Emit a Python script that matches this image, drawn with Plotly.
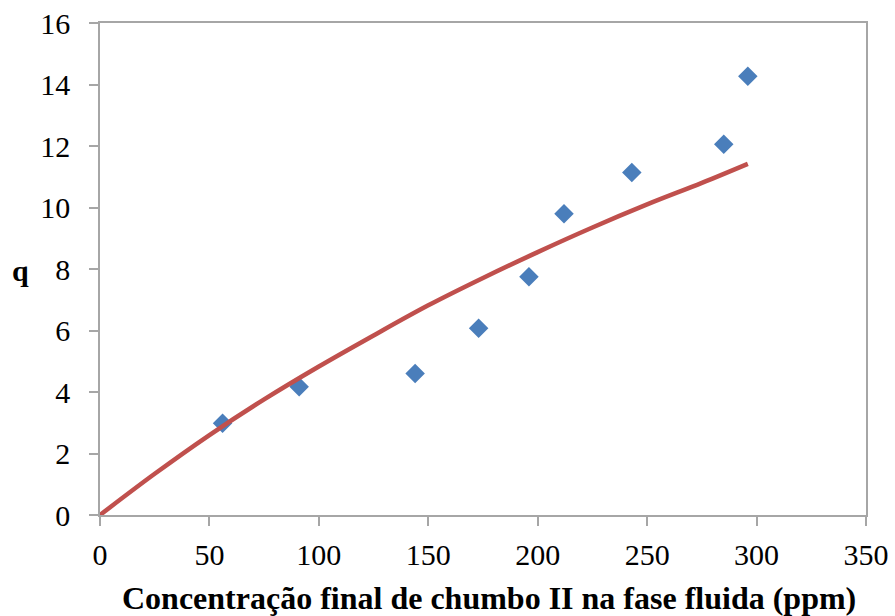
import plotly.graph_objects as go

# Measured equilibrium points
conc_ppm = [56, 91, 144, 173, 196, 212, 243, 285, 296]
q_measured = [2.98, 4.17, 4.60, 6.07, 7.75, 9.80, 11.14, 12.06, 14.27]

# Fitted isotherm curve (sampled)
fit_conc = [0, 25, 50, 75, 100, 125, 150, 175, 200, 225, 250, 275, 296]
fit_q = [0.0, 1.34, 2.60, 3.76, 4.83, 5.84, 6.82, 7.71, 8.55, 9.35, 10.10, 10.80, 11.42]

x_ticks = [0, 50, 100, 150, 200, 250, 300, 350]
y_ticks = [0, 2, 4, 6, 8, 10, 12, 14, 16]

x_title = "Concentração final de chumbo II na fase fluida (ppm)"
y_title = "q"

axis_gray = "#a6a6a6"
font_family = "Liberation Serif"
font_size = 30

fig = go.Figure()
fig.add_trace(go.Scatter(
    x=conc_ppm, y=q_measured, mode="markers",
    marker=dict(symbol="diamond", size=15, color="#4a7ebb", line=dict(width=0)),
    showlegend=False, cliponaxis=False,
))
fig.add_trace(go.Scatter(
    x=fit_conc, y=fit_q, mode="lines",
    line=dict(color="#c0504d", width=4.5, shape="spline"),
    showlegend=False, cliponaxis=False,
))

axis_common = dict(
    showgrid=False, zeroline=False, automargin=False,
    showline=True, linecolor=axis_gray, linewidth=1.5, mirror=True,
    ticks="outside", ticklen=9, tickcolor=axis_gray, tickwidth=1.5,
    tickfont=dict(family=font_family, size=font_size, color="black"),
)

fig.update_layout(
    width=895, height=616,
    margin=dict(l=100, r=29, t=23, b=101),
    paper_bgcolor="white", plot_bgcolor="white",
    font=dict(family=font_family, size=font_size, color="black"),
    xaxis=dict(range=[0, 350], tickvals=x_ticks, ticklabelstandoff=3, **axis_common),
    yaxis=dict(range=[0, 16], tickvals=y_ticks, ticklabelstandoff=13, **axis_common),
    annotations=[
        dict(text="<b>" + x_title + "</b>", xref="paper", yref="paper",
             x=0.508, y=0, yshift=-83, xanchor="center", yanchor="middle",
             showarrow=False, font=dict(family=font_family, size=32, color="black")),
        dict(text="<b>" + y_title + "</b>", xref="paper", yref="paper",
             x=0, xshift=-80, y=0.5, yshift=-1, xanchor="center", yanchor="middle",
             showarrow=False, font=dict(family=font_family, size=font_size, color="black")),
    ],
)

fig.write_html("out.html")
